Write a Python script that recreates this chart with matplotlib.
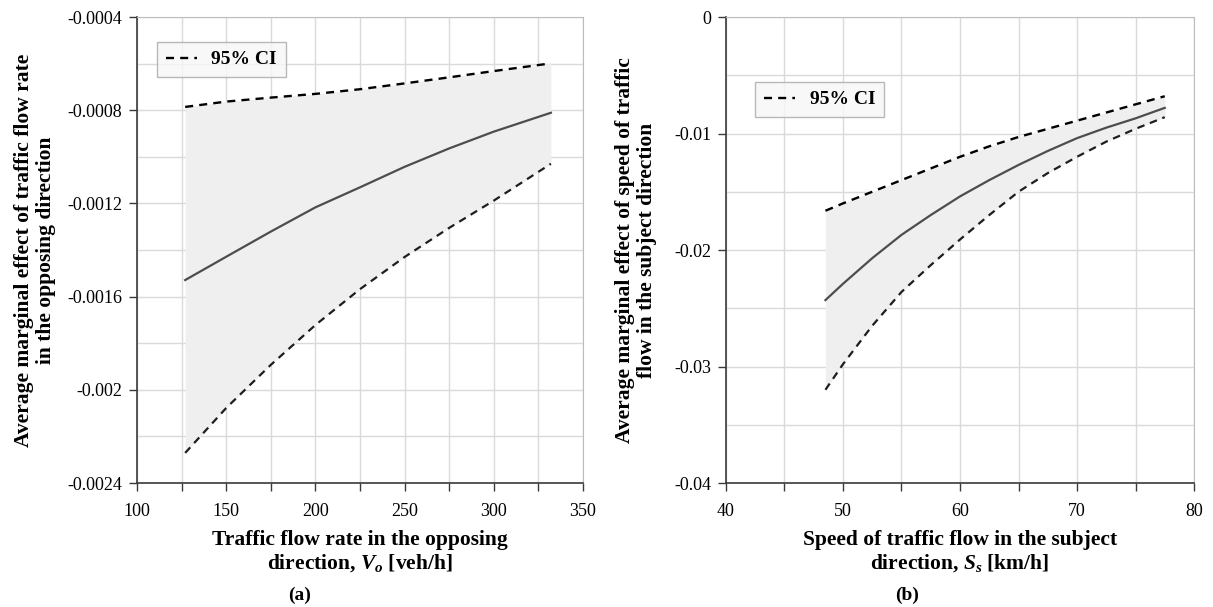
import matplotlib
matplotlib.use("Agg")
import matplotlib.pyplot as plt
from matplotlib.ticker import MultipleLocator, FuncFormatter
from matplotlib.lines import Line2D

plt.rcParams['font.family'] = ['Liberation Serif', 'DejaVu Serif']
plt.rcParams['mathtext.fontset'] = 'custom'
plt.rcParams['mathtext.rm'] = 'Liberation Serif:bold'
plt.rcParams['mathtext.it'] = 'Liberation Serif:italic:bold'
plt.rcParams['mathtext.bf'] = 'Liberation Serif:bold'
plt.rcParams['axes.unicode_minus'] = False

# Panel (a): traffic flow rate in the opposing direction
vo = [127, 150, 175, 200, 225, 250, 275, 300, 332]
me_a = [-0.001529, -0.001429, -0.001321, -0.001217, -0.001131, -0.001043, -0.000964, -0.000892, -0.000811]
up_a = [-0.000786, -0.000763, -0.000746, -0.000730, -0.000710, -0.000685, -0.000659, -0.000632, -0.000599]
lo_a = [-0.002271, -0.002078, -0.001893, -0.001722, -0.001568, -0.001430, -0.001305, -0.001188, -0.001030]

# Panel (b): speed of traffic flow in the subject direction
ss = [48.5, 50, 52.5, 55, 57.5, 60, 62.5, 65, 67.5, 70, 72.5, 75, 77.5]
me_b = [-0.0243, -0.0229, -0.0207, -0.0187, -0.0170, -0.0154, -0.0140, -0.0127, -0.0115, -0.0104, -0.0095, -0.0087, -0.0078]
up_b = [-0.01663, -0.0160, -0.0150, -0.0140, -0.0130, -0.0120, -0.0111, -0.0103, -0.0096, -0.0089, -0.0082, -0.0075, -0.0068]
lo_b = [-0.0320, -0.0298, -0.0265, -0.0236, -0.0213, -0.0191, -0.0170, -0.0150, -0.0134, -0.0120, -0.0107, -0.0096, -0.0086]

W, H = 1213, 607
fig = plt.figure(figsize=(W / 100, H / 100), dpi=100)
ax1 = fig.add_axes([137 / W, 1 - 483 / H, 446 / W, 466 / H])
ax2 = fig.add_axes([726 / W, 1 - 483 / H, 468 / W, 466 / H])

fill_c = '#efefef'
mean_c = '#4d4d4d'
grid_c = '#dadada'
DASH = (0, (3.4, 2.6))


def style(ax):
    ax.set_axisbelow(True)
    ax.grid(True, which='both', color=grid_c, lw=1)
    for s in ['top', 'right']:
        ax.spines[s].set_color('#bdbdbd')
    for s in ['left', 'bottom']:
        ax.spines[s].set_color('#3a3a3a')
        ax.spines[s].set_linewidth(1.2)
    ax.tick_params(axis='both', which='major', direction='out', length=5.5, width=1,
                   labelsize=13, color='#3a3a3a')
    ax.tick_params(axis='y', which='major', pad=5)
    ax.tick_params(axis='x', which='major', pad=9)
    ax.tick_params(axis='x', which='minor', direction='out', length=5.5, width=1, color='#3a3a3a')
    ax.tick_params(axis='y', which='minor', length=0)


def draw(ax, x, me, up, lo):
    ax.fill_between(x, lo, up, color=fill_c, lw=0, zorder=1)
    ax.plot(x, up, color='black', ls=DASH, lw=1.7, zorder=3)
    ax.plot(x, lo, color='#1e1e1e', ls=DASH, lw=1.6, zorder=3)
    ax.plot(x, me, color=mean_c, lw=1.6, zorder=3)


draw(ax1, vo, me_a, up_a, lo_a)
ax1.set_xlim(100, 350)
ax1.set_ylim(-0.0024, -0.0004)
ax1.xaxis.set_major_locator(MultipleLocator(50))
ax1.xaxis.set_minor_locator(MultipleLocator(25))
ax1.yaxis.set_major_locator(MultipleLocator(0.0004))
ax1.yaxis.set_minor_locator(MultipleLocator(0.0002))
ax1.yaxis.set_major_formatter(FuncFormatter(lambda v, p: ('%.4f' % v).rstrip('0').rstrip('.')))
style(ax1)

draw(ax2, ss, me_b, up_b, lo_b)
ax2.set_xlim(40, 80)
ax2.set_ylim(-0.04, 0)
ax2.xaxis.set_major_locator(MultipleLocator(10))
ax2.xaxis.set_minor_locator(MultipleLocator(5))
ax2.yaxis.set_major_locator(MultipleLocator(0.01))
ax2.yaxis.set_minor_locator(MultipleLocator(0.005))
ax2.yaxis.set_major_formatter(FuncFormatter(lambda v, p: ('%.2f' % v).rstrip('0').rstrip('.') if abs(v) > 1e-12 else '0'))
style(ax2)

lab_kw = dict(fontsize=15.5, fontweight='bold', linespacing=1.12)
ax1.set_ylabel('Average marginal effect of traffic flow rate\nin the opposing direction', **lab_kw)
ax2.set_ylabel('Average marginal effect of speed of traffic\nflow in the subject direction', **lab_kw)
ax1.yaxis.set_label_coords((56 - 137) / 446, 0.5)
ax2.yaxis.set_label_coords((657 - 726) / 468, 0.5)
ax1.set_xlabel('Traffic flow rate in the opposing\ndirection, $V_o$ [veh/h]', **lab_kw)
ax2.set_xlabel('Speed of traffic flow in the subject\ndirection, $S_s$ [km/h]', **lab_kw)
ax1.xaxis.set_label_coords(0.5, (483 - 530) / 466)
ax2.xaxis.set_label_coords(0.5, (483 - 530) / 466)

fig.text(300 / W, 1 - 595 / H, '(a)', ha='center', va='center', fontsize=14, fontweight='bold')
fig.text(907 / W, 1 - 595 / H, '(b)', ha='center', va='center', fontsize=14, fontweight='bold')

handle = Line2D([], [], color='black', ls=DASH, lw=1.7)
for ax, loc in [(ax1, (0.0446, 1 - 25 / 466)), (ax2, (0.0626, 1 - 65 / 466))]:
    leg = ax.legend([handle], ['95% CI'], loc='upper left', bbox_to_anchor=loc,
                    prop={'weight': 'bold', 'size': 14}, frameon=True, fancybox=False,
                    handlelength=1.6, borderpad=0.45, handletextpad=0.75, borderaxespad=0)
    leg.get_frame().set_facecolor('#f7f7f7')
    leg.get_frame().set_edgecolor('#a8a8a8')
    leg.get_frame().set_linewidth(1.0)

fig.savefig('out.png', dpi=100)
